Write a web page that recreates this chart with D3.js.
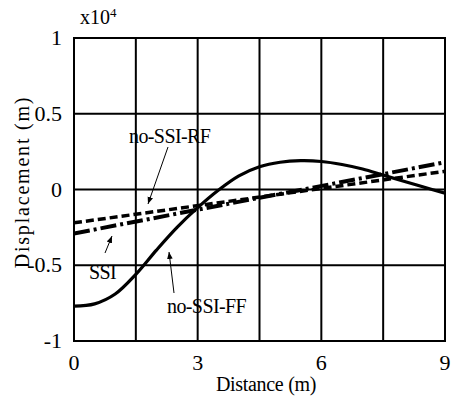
<!DOCTYPE html>
<html><head><meta charset="utf-8">
<script src="https://cdn.jsdelivr.net/npm/d3@7"></script>
<style>body{margin:0;background:#fff}svg{display:block}
svg text{font-family:"Liberation Serif","DejaVu Serif",serif}</style>
</head><body><svg id="c" width="458" height="400"></svg>
<script>
const xTicks = [0, 3, 6, 9];
const xGrid = [1.5, 3, 4.5, 6, 7.5];
const yTicks = [-1, -0.5, 0, 0.5, 1];
const yTickLabels = ["-1", "-0.5", "0", "0.5", "1"];
const ffX = [0, 0.5, 1.0, 1.5, 2.0, 2.5, 3.0, 3.5, 4.0, 4.5, 5.0, 5.5, 6.0, 6.5, 7.0, 7.5, 8.0, 8.5, 9.0];
const ffY = [-0.77, -0.755, -0.69, -0.56, -0.40, -0.25, -0.12, -0.005, 0.09, 0.15, 0.18, 0.19, 0.185, 0.165, 0.135, 0.095, 0.055, 0.015, -0.025];
const ssiX = [0, 9];
const ssiY = [-0.29, 0.18];
const rfX = [0, 9];
const rfY = [-0.22, 0.12];

const svg = d3.select("#c");
const L = 74, R = 445, T = 38, B = 341;
const x = d3.scaleLinear().domain([0, 9]).range([L, R]);
const y = d3.scaleLinear().domain([-1, 1]).range([B, T]);

svg.append("clipPath").attr("id","cp").append("rect").attr("x",L).attr("y",T).attr("width",R-L).attr("height",B-T);

svg.append("g").selectAll("line").data(xGrid).join("line")
  .attr("x1", d=>x(d)).attr("x2", d=>x(d)).attr("y1", T).attr("y2", B)
  .attr("stroke","#000").attr("stroke-width",2);
svg.append("g").selectAll("line").data([-0.5,0,0.5]).join("line")
  .attr("y1", d=>y(d)).attr("y2", d=>y(d)).attr("x1", L).attr("x2", R)
  .attr("stroke","#000").attr("stroke-width",2);
svg.append("rect").attr("x",L).attr("y",T).attr("width",R-L).attr("height",B-T)
  .attr("fill","none").attr("stroke","#000").attr("stroke-width",2);

svg.append("g").selectAll("text").data(yTicks).join("text")
  .attr("x", 62).attr("y", d=>y(d)+7).attr("text-anchor","end")
  .attr("font-size",22).text((d,i)=>yTickLabels[i]);
svg.append("g").selectAll("text").data(xTicks).join("text")
  .attr("x", d=>x(d)).attr("y", 370).attr("text-anchor","middle")
  .attr("font-size",22).text(d=>d);

svg.append("text").attr("x", 266).attr("y", 391).attr("text-anchor","middle")
  .attr("font-size",20).attr("letter-spacing","-0.3").text("Distance (m)");
svg.append("text").attr("transform","translate(29,182) rotate(-90)").attr("text-anchor","middle")
  .attr("font-size",20).attr("letter-spacing","1.8").text("Displacement (m)");
const ex = svg.append("text").attr("x", 80).attr("y", 24).attr("font-size",20);
ex.append("tspan").text("x10");
ex.append("tspan").attr("dy",-7).attr("font-size",13).text("4");

const g = svg.append("g").attr("clip-path","url(#cp)");
const line = d3.line().x(d=>x(d[0])).y(d=>y(d[1]));
g.append("path").datum(rfX.map((v,i)=>[v, rfY[i]])).attr("d", line)
  .attr("fill","none").attr("stroke","#000").attr("stroke-width",3.5).attr("stroke-dasharray","8,4");
g.append("path").datum(ssiX.map((v,i)=>[v, ssiY[i]])).attr("d", line)
  .attr("fill","none").attr("stroke","#000").attr("stroke-width",4).attr("stroke-dasharray","16,4,3,4");
g.append("path").datum(ffX.map((v,i)=>[v, ffY[i]])).attr("d", d3.line().x(d=>x(d[0])).y(d=>y(d[1])).curve(d3.curveCatmullRom))
  .attr("fill","none").attr("stroke","#000").attr("stroke-width",3.2);

const defs = svg.append("defs");
defs.append("marker").attr("id","ah").attr("viewBox","0 0 10 10").attr("refX",10).attr("refY",5)
  .attr("markerWidth",7).attr("markerHeight",7).attr("orient","auto")
  .append("path").attr("d","M0,1 L10,5 L0,9 Z").attr("fill","#000");
function ann(x1,y1,x2,y2){
  svg.append("line").attr("x1",x1).attr("y1",y1).attr("x2",x2).attr("y2",y2)
    .attr("stroke","#000").attr("stroke-width",1).attr("marker-end","url(#ah)");
}
svg.append("text").attr("x",129).attr("y",143).attr("font-size",20).attr("letter-spacing","-0.6").text("no-SSI-RF");
ann(168,147,148,204);
svg.append("text").attr("x",89).attr("y",279).attr("font-size",20).attr("letter-spacing","-0.6").text("SSI");
ann(105,253,112,236);
svg.append("text").attr("x",167).attr("y",313).attr("font-size",20).attr("letter-spacing","-0.6").text("no-SSI-FF");
ann(174,293,169,252);
</script></body></html>
